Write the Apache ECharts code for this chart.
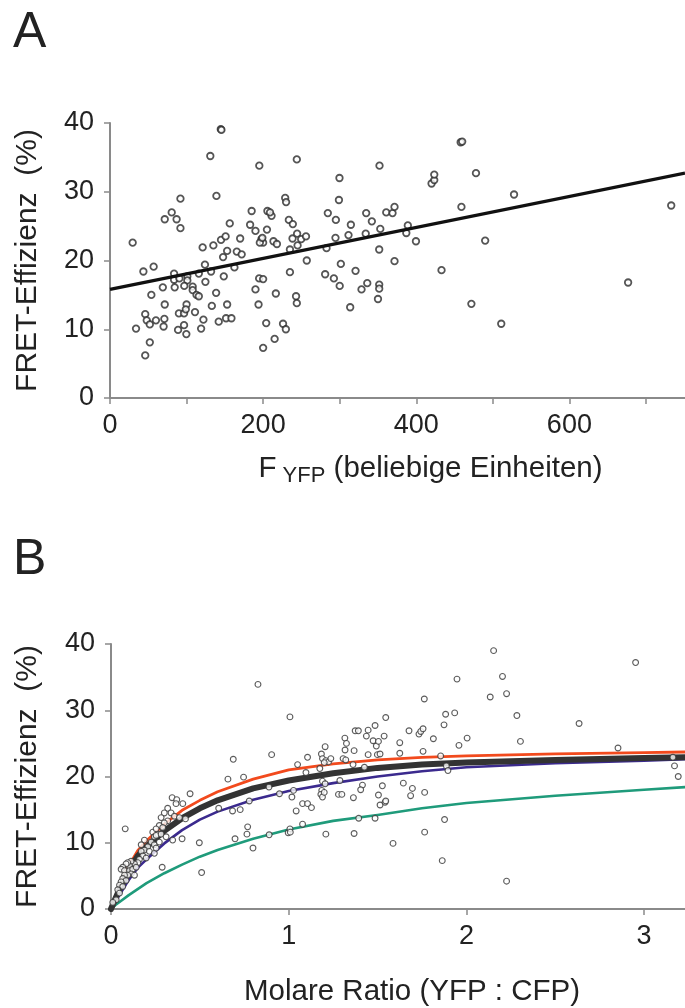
<!DOCTYPE html>
<html>
<head>
<meta charset="utf-8">
<script src="https://cdn.jsdelivr.net/npm/echarts@6/dist/echarts.min.js"></script>
<style>
html,body{margin:0;padding:0;background:#fff;}
#chart{width:685px;height:1008px;}
</style>
</head>
<body>
<div id="chart"></div>
<script>
// ---------- Panel A data: FRET efficiency vs YFP intensity ----------
const aPoints = [
[29.6,22.6],[43.6,18.4],[57,19.1],[34,10.1],[46,12.2],[48,11.3],[52,10.7],[60,11.3],[52,8.1],[46,6.2],
[54,15.0],[69,16.1],[71.5,13.6],[71,11.5],[70,10.4],[71.5,26.0],[80.6,27.0],[87,26.0],[92,24.7],[92,29.0],
[83.7,18.1],[83.7,17.2],[84.5,16.1],[90.6,17.4],[90,12.3],[96.7,12.3],[100,13.6],[99,12.9],[96.7,10.6],[99.7,9.3],
[88.9,9.9],[101,17.7],[101,17.1],[97,16.3],[108,16.2],[108,15.7],[113,15.0],[116,14.8],[116,18.1],[124,19.4],
[124.6,16.9],[111,12.5],[122,11.4],[119,10.1],[121,21.9],[135,22.2],[132,18.4],[138.6,15.3],[133,13.4],[142,11.1],
[131,35.2],[144.7,39.1],[145.5,39.0],[139,29.4],[145,23.0],[151,23.5],[156.4,25.4],[147.7,20.5],[153,21.4],[148.6,17.7],
[153,13.6],[151.6,11.6],[158.6,11.6],[162.5,19.0],[165.6,21.3],[172,20.9],[170,23.2],[185,27.2],[183,25.2],[190,24.3],
[195,33.8],[197.8,23.1],[200,22.6],[195.7,22.6],[199,23.3],[205,24.5],[205.6,27.2],[211,26.5],[209,27.0],[194.8,17.4],
[200,17.3],[190,15.8],[194,13.6],[204,10.9],[200,7.3],[213.5,22.8],[218,22.4],[216.6,15.2],[215,8.6],[226,10.8],
[229.7,10.0],[228.8,29.1],[230,28.5],[233.6,25.9],[238.8,25.3],[235,21.6],[235,18.3],[238.4,23.2],[244.4,23.9],[244,34.7],
[243,14.8],[244,13.8],[245,22.2],
[249.7,23.1],[256,23.5],[257,20.0],[284.5,26.9],[295,25.9],[294.5,23.3],[282.8,21.8],[281,18.0],[292.4,17.4],[300,16.3],
[301.5,19.5],[299,28.8],[299.7,32.0],[313.7,13.2],[311.5,23.7],[314.6,25.2],[320.7,18.5],[328.5,15.8],[336,16.7],[334,23.9],
[334.6,26.9],[342,25.7],[353,24.6],[351.6,21.6],[351.6,16.5],[351.6,15.9],[350,14.4],[352,33.8],[360.8,27.0],[369,26.9],
[371.6,27.8],[371.6,19.9],[389,25.1],[387,24.0],[399.6,22.8],[420,31.2],[423.5,31.7],[423.5,32.5],[433,18.6],[458,37.2],
[460,37.3],[459,27.8],[472,13.7],[478,32.7],
[490,22.9],[511,10.8],[527.7,29.6],[676.7,16.8],[733,28.0]
];
// fitted regression line (endpoints)
const aFitLine = [[0,15.8],[751,32.7]];
const aXTicks = [0,200,400,600];

// ---------- Panel B data: FRET efficiency vs molar ratio ----------
const bPoints = [
[0.235,11.6],[0.244,10.9],[0.263,11.3],[0.226,10.1],[0.244,9.7],[0.272,10.1],[0.207,9.4],[0.188,8.9],[0.216,8.7],[0.244,8.4],
[0.254,9.2],[0.17,8.7],[0.179,8.0],[0.198,7.7],[0.16,7.5],[0.151,7.0],[0.132,6.8],[0.113,7.2],[0.104,6.5],[0.094,7.0],
[0.085,6.8],[0.066,6.3],[0.057,6.0],[0.076,5.8],[0.104,5.8],[0.122,6.0],[0.142,6.3],[0.113,5.3],[0.132,5.1],[0.094,5.1],
[0.076,5.1],[0.066,4.6],[0.085,4.3],[0.057,4.1],[0.048,3.6],[0.066,3.4],[0.038,2.9],[0.048,2.4],[0.029,1.4],[0.01,1.0],
[0.188,10.4],[0.17,9.7],
[0.319,15.2],[0.338,14.5],[0.3,14.5],[0.357,14.0],[0.282,13.8],[0.319,13.3],[0.385,13.8],[0.3,13.0],[0.272,12.6],[0.291,12.3],
[0.254,12.1],[0.254,11.1],[0.282,11.3],[0.31,10.9],
[0.827,33.9],[1.007,29.0],[0.904,23.3],[0.688,22.6],[0.658,19.6],[0.746,19.9],[0.889,18.4],[0.948,17.4],[1.018,16.9],[1.027,17.9],
[1.042,14.8],[1.05,21.8],[0.778,16.3],[0.684,14.8],[0.727,15.0],[0.606,15.2],[0.769,12.4],[0.765,11.3],[0.698,10.6],[0.799,9.2],
[0.89,11.2],[0.997,11.5],[1.007,12.1],[0.497,10.0],[0.51,5.5],[0.288,6.3],[0.08,12.1],[0.445,17.4],[0.419,13.6],[0.4,10.6],
[0.344,16.8],[0.37,16.5],[0.366,15.9],[0.404,15.9],[0.347,10.4],
[1.078,15.9],[1.106,15.9],[1.009,11.6],[1.078,12.8],
[1.106,22.9],[1.097,20.6],[1.128,15.3],[1.175,21.2],[1.184,23.4],[1.205,24.5],[1.19,22.7],[1.209,22.4],[1.224,22.2],[1.2,22.1],
[1.237,22.7],[1.19,19.3],[1.205,18.9],[1.186,17.9],[1.181,17.3],[1.19,16.9],[1.2,17.6],[1.209,11.3],[1.288,19.4],[1.28,17.3],
[1.299,17.3],[1.306,22.7],[1.321,22.5],[1.316,25.8],[1.325,25.0],[1.317,24.0],[1.368,23.9],[1.374,26.9],[1.392,26.9],[1.362,21.8],
[1.364,16.8],[1.415,18.7],[1.405,18.0],[1.426,21.4],[1.368,11.4],[1.394,13.7],[1.437,26.1],[1.447,27.0],[1.447,23.3],[1.475,25.4],
[1.486,27.7],[1.493,24.6],[1.505,25.3],[1.499,23.3],[1.514,23.4],[1.537,26.1],[1.546,28.9],[1.486,13.7],[1.505,17.2],[1.527,18.6],
[1.514,15.7],[1.542,16.1],[1.546,16.3],[1.587,9.9],[1.625,25.1],[1.625,23.5],[1.645,19.0],[1.677,26.9],[1.696,18.2],[1.686,17.1],
[1.733,26.4],[1.743,26.8],[1.756,27.2],[1.756,23.8],[1.763,31.7],[1.765,17.6],[1.765,11.6],[1.814,25.7],[1.855,23.1],[1.874,27.8],
[1.883,29.4],[1.934,29.6],[1.947,34.7],[1.958,24.7],[2.004,25.8],[1.887,21.6],[1.896,20.9],[1.877,13.5],[1.864,7.3],
[2.153,39.0],[2.203,35.1],[2.134,32.0],[2.226,32.5],[2.284,29.2],[2.304,25.3],[2.226,4.2],[2.634,28.0],[2.853,24.3],[2.952,37.2],
[3.162,22.9],[3.171,21.6],[3.192,20.0]
];
// saturation curves
const curveX      = [0, 0.025, 0.05, 0.1, 0.15, 0.2, 0.3, 0.4, 0.5, 0.6, 0.8, 1.0, 1.25, 1.5, 1.75, 2.0, 2.5, 3.0, 3.23];
const curveOrange = [0, 1.9, 3.6, 6.5, 8.8, 10.3, 12.8, 14.9, 16.4, 17.7, 19.6, 21.0, 21.9, 22.5, 22.9, 23.1, 23.4, 23.6, 23.7];
const curveBlack  = [0, 1.6, 3.1, 5.8, 8.0, 9.4, 11.8, 13.7, 15.2, 16.4, 18.2, 19.4, 20.5, 21.3, 21.8, 22.1, 22.5, 22.8, 22.9];
const curvePurple = [0, 1.1, 2.2, 4.4, 6.2, 7.5, 9.9, 11.9, 13.5, 14.7, 16.5, 17.8, 19.0, 20.0, 20.8, 21.4, 22.0, 22.4, 22.6];
const curveGreen  = [0, 0.6, 1.1, 2.1, 3.0, 3.9, 5.4, 6.7, 7.9, 8.9, 10.6, 12.0, 13.3, 14.2, 15.2, 16.0, 17.1, 18.0, 18.4];
const bXTicks = [0,1,2,3];

// ---------- chart ----------
const FONT = "'Liberation Sans', Arial, sans-serif";
const TXT = '#222';
const AX = '#8a8a8a';
const pair = ys => curveX.map((x,i)=>[x, ys[i]]);

function axisCommon(){
  return {
    axisLine:{show:true, lineStyle:{color:AX, width:2}},
    axisTick:{show:true, length:6, lineStyle:{color:AX, width:1.5}},
    splitLine:{show:false},
    axisLabel:{color:TXT, fontSize:27, fontFamily:FONT},
    nameTextStyle:{color:TXT, fontSize:30, fontFamily:FONT}
  };
}
function curve(ys, color, width, z){
  return {type:'line', xAxisIndex:1, yAxisIndex:1, data:pair(ys), smooth:false,
    symbol:'none', lineStyle:{color:color, width:width, cap:'round', join:'round'}, z:z};
}

const chart = echarts.init(document.getElementById('chart'), null, {renderer:'canvas'});
const option = {
  backgroundColor:'#fff',
  animation:false,
  graphic:[
    {type:'text', left:13, top:8, style:{text:'A', fontSize:50, fontFamily:FONT, fill:TXT}},
    {type:'text', left:13, top:535, style:{text:'B', fontSize:50, fontFamily:FONT, fill:TXT}}
  ],
  grid:[
    {left:110, top:123, width:575, height:275, containLabel:false},
    {left:111, top:644, width:574, height:276, containLabel:false}
  ],
  xAxis:[
    Object.assign(axisCommon(), {
      type:'value', gridIndex:0, min:0, max:751, interval:100,
      axisLabel:{color:TXT, fontSize:27, fontFamily:FONT, margin:14, showMaxLabel:false,
        formatter: v => aXTicks.indexOf(v) >= 0 ? String(v) : ''},
      name:'{a|F}{s| YFP}{a| (beliebige Einheiten)}',
      nameLocation:'middle', nameGap:53,
      nameTextStyle:{color:TXT, fontFamily:FONT, padding:[0,0,0,66],
        rich:{a:{fontSize:29.5, fontFamily:FONT, color:TXT}, s:{fontSize:22, fontFamily:FONT, color:TXT, padding:[14,0,0,0]}}}
    }),
    Object.assign(axisCommon(), {
      type:'value', gridIndex:1, min:0, max:3.23, interval:1,
      axisLabel:{color:TXT, fontSize:27, fontFamily:FONT, margin:14, showMaxLabel:false,
        formatter: v => bXTicks.indexOf(v) >= 0 ? String(v) : ''},
      name:'Molare Ratio (YFP : CFP)',
      nameLocation:'middle', nameGap:68,
      nameTextStyle:{color:TXT, fontSize:29.5, fontFamily:FONT, padding:[0,0,0,28]}
    })
  ],
  yAxis:[
    Object.assign(axisCommon(), {
      type:'value', gridIndex:0, min:0, max:40, interval:10,
      axisLabel:{color:TXT, fontSize:27, fontFamily:FONT, margin:16},
      name:'FRET-Effizienz  (%)', nameLocation:'middle', nameGap:67
    }),
    Object.assign(axisCommon(), {
      type:'value', gridIndex:1, min:0, max:40, interval:10,
      axisLabel:{color:TXT, fontSize:27, fontFamily:FONT, margin:16},
      name:'FRET-Effizienz  (%)', nameLocation:'middle', nameGap:68
    })
  ],
  series:[
    {type:'scatter', xAxisIndex:0, yAxisIndex:0, data:aPoints, symbol:'circle', symbolSize:6.5,
      itemStyle:{color:'#fff', borderColor:'#2a2a2a', borderWidth:1.8}, z:2},
    {type:'line', xAxisIndex:0, yAxisIndex:0, data:aFitLine, showSymbol:false, symbol:'none',
      lineStyle:{color:'#111', width:3.2}, z:3},
    curve(curveGreen, '#1f9b7b', 2.6, 2),
    curve(curvePurple, '#3b2a8e', 2.6, 2),
    curve(curveOrange, '#f24a1d', 2.8, 2),
    curve(curveBlack, '#333', 6, 3),
    {type:'scatter', xAxisIndex:1, yAxisIndex:1, data:bPoints, symbol:'circle', symbolSize:5.8,
      itemStyle:{color:'#fff', borderColor:'#333', borderWidth:1.1}, z:4}
  ]
};
chart.setOption(option);
</script>
</body>
</html>
